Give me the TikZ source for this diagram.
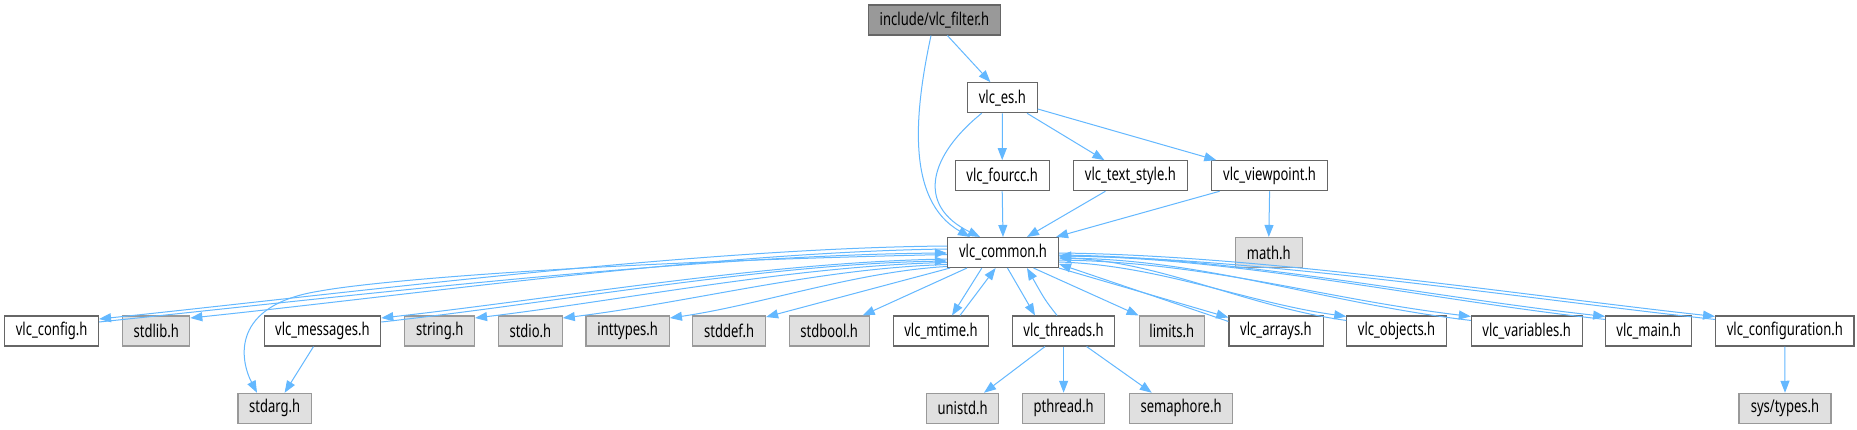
\documentclass[tikz,border=0pt]{standalone}
\usepackage{fontspec}
\setmainfont[FakeStretch=0.74]{Noto Sans}
\usetikzlibrary{arrows.meta}
\definecolor{edgec}{HTML}{63B8FF}
\definecolor{wborder}{HTML}{666666}
\definecolor{gborder}{HTML}{999999}
\definecolor{gfill}{HTML}{E0E0E0}
\definecolor{rfill}{HTML}{999999}
\begin{document}
\begin{tikzpicture}[x=1pt,y=-1pt,
  base/.style={rectangle,inner sep=0pt,minimum height=30pt,line width=1.1pt,font=\fontsize{17.6}{20}\selectfont},
  wbox/.style={base,draw=wborder,fill=white},
  gbox/.style={base,draw=gborder,fill=gfill},
  rootbox/.style={base,draw=wborder,fill=rfill},
  dep/.style={draw=edgec,line width=1pt,-{Triangle[length=12pt,width=9pt]}}]
\fill[white] (0,0) rectangle (1857,429);
\useasboundingbox (0,0) rectangle (1857,429);
% nodes
\node[rootbox,minimum width=132pt] (root) at (934.4,20) {include/vlc\_filter.h};
\node[wbox,minimum width=69.6pt] (es) at (1002.4,97.7) {vlc\_es.h};
\node[wbox,minimum width=93.7pt] (fourcc) at (1002.2,175.7) {vlc\_fourcc.h};
\node[wbox,minimum width=113.9pt] (textstyle) at (1130.4,175.7) {vlc\_text\_style.h};
\node[wbox,minimum width=115.5pt] (viewpoint) at (1269.6,175.7) {vlc\_viewpoint.h};
\node[wbox,minimum width=111pt] (common) at (1003,252.5) {vlc\_common.h};
\node[gbox,minimum width=67.5pt] (math) at (1268.8,252.5) {math.h};
% row 3
\node[wbox,minimum width=93.8pt] (config) at (51.6,331) {vlc\_config.h};
\node[gbox,minimum width=67.2pt] (stdlib) at (156.2,331) {stdlib.h};
\node[wbox,minimum width=116.7pt] (messages) at (322.4,331) {vlc\_messages.h};
\node[gbox,minimum width=69.6pt] (string) at (439.7,331) {string.h};
\node[gbox,minimum width=63.7pt] (stdio) at (530.4,331) {stdio.h};
\node[gbox,minimum width=83.4pt] (inttypes) at (627.7,331) {inttypes.h};
\node[gbox,minimum width=72.7pt] (stddef) at (729.2,331) {stddef.h};
\node[gbox,minimum width=79.9pt] (stdbool) at (829.2,331) {stdbool.h};
\node[wbox,minimum width=95.7pt] (mtime) at (941,331) {vlc\_mtime.h};
\node[wbox,minimum width=102pt] (threads) at (1063.6,331) {vlc\_threads.h};
\node[gbox,minimum width=65.2pt] (limits) at (1171.8,331) {limits.h};
\node[wbox,minimum width=94.1pt] (arrays) at (1276,331) {vlc\_arrays.h};
\node[wbox,minimum width=99.6pt] (objects) at (1396.6,331) {vlc\_objects.h};
\node[wbox,minimum width=110.7pt] (variables) at (1526.7,331) {vlc\_variables.h};
\node[wbox,minimum width=85.8pt] (main) at (1648.6,331) {vlc\_main.h};
\node[wbox,minimum width=138.4pt] (configuration) at (1784.8,331) {vlc\_configuration.h};
% row 4
\node[gbox,minimum width=73.2pt] (stdarg) at (274.6,408.3) {stdarg.h};
\node[gbox,minimum width=71.6pt] (unistd) at (962.6,408.3) {unistd.h};
\node[gbox,minimum width=82.3pt] (pthread) at (1063.6,408.3) {pthread.h};
\node[gbox,minimum width=103.6pt] (semaphore) at (1181.1,408.3) {semaphore.h};
\node[gbox,minimum width=92pt] (systypes) at (1785,408.3) {sys/types.h};
% top edges
\draw[dep] ([xshift=13pt]root.south) -- ([xshift=-12pt]es.north);
\draw[dep] ([xshift=-3.4pt]root.south) .. controls (915,110) and (905,200) .. ([xshift=-33pt]common.north);
\draw[dep] ([xshift=-20.7pt]es.south) .. controls (930,155) and (915,205) .. ([xshift=-23pt]common.north);
\draw[dep] (es.south) -- (fourcc.north);
\draw[dep] ([xshift=24.6pt]es.south) -- ([xshift=-26pt]textstyle.north);
\draw[dep] ([yshift=-11.3pt]es.east) -- ([xshift=5pt]viewpoint.north west);
\draw[dep] (fourcc.south) -- (common.north);
\draw[dep] ([xshift=-25pt]textstyle.south) -- ([xshift=24pt]common.north);
\draw[dep] ([xshift=-50pt]viewpoint.south) -- ([xshift=-3pt]common.north east);
\draw[dep] (viewpoint.south) -- (math.north);
% left fan
\draw[dep] ([yshift=6.5pt]common.west) .. controls +(-250,2) and +(250,-26) .. ([yshift=12pt]config.east);
\draw[dep] ([yshift=9pt]config.east) .. controls +(250,-26) and +(-250,2) .. ([yshift=-0.5pt]common.west);
\draw[dep] ([yshift=3.5pt]common.west) .. controls +(-230,3) and +(230,-24) .. ([yshift=13pt]stdlib.east);
\draw[dep] ([yshift=-2pt]common.west) .. controls (600,262) and (380,280) .. (320,291) .. controls (230,305) and (240,360) .. ([xshift=-17.6pt]stdarg.north);
\draw[dep] ([yshift=-6.5pt]common.west) .. controls +(-180,3) and +(180,-20) .. ([yshift=13pt]messages.east);
\draw[dep] ([yshift=9pt]messages.east) .. controls +(180,-20) and +(-180,3) .. ([yshift=-8.5pt]common.west);
\draw[dep] ([yshift=-10pt]common.west) .. controls +(-150,3) and +(150,-18) .. ([yshift=13pt]string.east);
\draw[dep] ([yshift=-12pt]common.west) .. controls +(-130,4) and +(130,-16) .. ([yshift=13pt]stdio.east);
\draw[dep] ([yshift=-14pt]common.west) .. controls +(-90,5) and +(90,-13) .. ([yshift=13pt]inttypes.east);
\draw[dep] ([xshift=3pt]common.south west) -- ([yshift=14pt]stddef.east);
\draw[dep] ([xshift=20pt]common.south west) -- ([xshift=-7pt]stdbool.north east);
% center
\draw[dep] ([xshift=-21.2pt]common.south) -- ([xshift=11pt]mtime.north);
\draw[dep] ([xshift=19pt]mtime.north) -- ([xshift=-7.4pt]common.south);
\draw[dep] ([xshift=4.5pt]common.south) -- ([xshift=-28.6pt]threads.north);
\draw[dep] ([xshift=-6.6pt]threads.north) .. controls (1045,300) .. ([xshift=24pt]common.south);
\draw[dep] ([xshift=-25.5pt]common.south east) -- (limits.north west);
% right fan
\draw[dep] (common.south east) -- ([yshift=-2pt]arrays.north west);
\draw[dep] ([yshift=-6pt]arrays.north west) -- ([yshift=-11.5pt]common.east);
\draw[dep] ([yshift=-9.5pt]common.east) .. controls +(100,3) and +(-100,-14) .. ([yshift=-1pt]objects.north west);
\draw[dep] ([yshift=-5pt]objects.north west) .. controls +(-100,-14) and +(100,3) .. ([yshift=-5.5pt]common.east);
\draw[dep] ([yshift=-7.5pt]common.east) .. controls +(150,2) and +(-150,-18) .. ([yshift=-1pt]variables.north west);
\draw[dep] ([yshift=-5pt]variables.north west) .. controls +(-150,-18) and +(150,2) .. ([yshift=-5.5pt]common.east);
\draw[dep] ([yshift=-2.5pt]common.east) .. controls +(180,2) and +(-180,-20) .. ([yshift=-1pt]main.north west);
\draw[dep] ([yshift=-4pt]main.north west) .. controls +(-180,-20) and +(180,2) .. ([yshift=-3.5pt]common.east);
\draw[dep] ([yshift=-0.5pt]common.east) .. controls +(200,2) and +(-200,-22) .. ([yshift=-1pt]configuration.north west);
\draw[dep] ([yshift=-4pt]configuration.north west) .. controls +(-200,-22) and +(200,2) .. ([yshift=-3.5pt]common.east);
% bottom
\draw[dep] ([xshift=-8.9pt]messages.south) -- ([xshift=10pt]stdarg.north);
\draw[dep] ([xshift=-18.6pt]threads.south) -- ([xshift=21.4pt]unistd.north);
\draw[dep] (threads.south) -- (pthread.north);
\draw[dep] ([xshift=23pt]threads.south) -- ([xshift=-29.3pt]semaphore.north);
\draw[dep] (configuration.south) -- (systypes.north);
\end{tikzpicture}
\end{document}
